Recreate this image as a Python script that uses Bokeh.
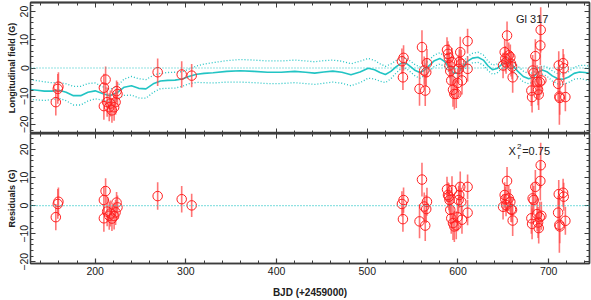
from bokeh.plotting import figure
from bokeh.layouts import column
from bokeh.models import (Range1d, LinearAxis, FixedTicker, Span, Label,
                          ColumnDataSource)
from bokeh.embed import file_html
from bokeh.resources import INLINE

# ---------------- data ----------------
obs_t = [156.6, 158.8, 159.5,
         209.6, 209.6, 211.5, 213.2, 215.5, 216.8, 218.5, 220.9, 222.5, 223.6, 224.6,
         268.9, 295.4, 306.4,
         538.2, 539.3, 540.0, 557.6, 560.3, 562.8, 563.9, 565.0, 565.8,
         587.9, 589.0, 590.0, 590.7, 591.5, 592.6, 593.4, 594.5, 596.0, 598.1,
         599.6, 600.7, 601.4, 602.5, 603.6, 604.4, 610.6, 610.6,
         649.7, 651.5, 652.2, 653.0, 654.1, 656.0, 657.7, 658.5, 659.6, 660.3,
         680.9, 681.7, 682.3, 683.5, 685.3, 687.2, 688.3, 689.0, 690.1, 690.8, 691.2, 691.9,
         710.4, 711.1, 711.8, 712.2, 715.9, 716.6, 718.4]
obs_b = [-12.1, -7.4, -6.6,
         -7.0, -13.5, -4.1, -12.1, -13.9, -12.6, -15.0, -13.9, -12.1, -8.2, -9.2,
         -1.5, -2.3, -2.7,
         2.4, -3.3, 3.6, -7.4, 7.4, -0.9, -8.0, -1.5, 1.7,
         6.4, 5.0, 3.6, 0.9, -1.1, -4.4, 2.1, -7.7, -9.2, -9.2,
         -5.3, -0.3, 2.1, 5.6, 1.5, -4.4, 9.5, -0.3,
         0.9, 5.6, 3.3, 2.0, 11.5, 4.5, 3.8, 1.5, 0.5, -3.3,
         -8.0, -10.3, -0.9, -1.8, 4.2, -5.0, -7.7, -9.4, -5.0, 8.0, 13.5, -4.4,
         -5.6, 0.9, -10.1, -10.6, 1.7, -0.1, -10.3]
obs_err = [4.7, 5.3, 5.1,
           5.0, 4.8, 4.6, 5.2, 5.0, 4.6, 4.4, 4.8, 4.5, 3.8, 4.2,
           4.9, 4.7, 4.1,
           4.5, 4.5, 4.5, 6.0, 6.0, 5.0, 5.5, 5.0, 5.0,
           4.5, 4.5, 4.8, 4.5, 5.0, 5.5, 5.0, 6.0, 5.5, 5.0,
           5.0, 5.0, 4.5, 5.5, 5.0, 5.0, 4.4, 4.5,
           4.5, 4.5, 4.5, 4.0, 5.0, 4.5, 4.5, 4.5, 4.5, 5.5,
           5.5, 5.5, 5.5, 5.0, 6.0, 6.0, 5.5, 5.5, 5.5, 7.0, 8.0, 5.0,
           6.0, 5.0, 10.0, 6.0, 5.0, 5.0, 5.0]
obs_res = [-4.1, 0.6, 1.4,
           2.0, -4.5, 5.2, -2.1, -3.6, -2.8, -4.6, -3.7, -2.4, 1.1, -0.6,
           3.4, 2.3, 0.1,
           0.6, -4.8, 2.0, -5.6, 9.3, -0.3, -7.1, -1.2, 1.4,
           5.8, 3.8, 3.2, 2.0, -1.5, -4.5, 5.5, -6.2, -7.4, -7.0,
           -4.1, 2.0, 3.8, 6.7, 1.4, -5.0, 6.7, -2.5,
           -0.4, 3.8, 2.3, 0.2, 8.8, 2.6, 1.4, -1.3, -1.5, -5.3,
           -4.5, -6.5, 2.6, 2.0, 6.7, -3.0, -6.0, -8.0, -4.1, 8.8, 14.4, -3.6,
           -2.5, 4.1, -6.8, -7.4, 4.6, 3.2, -5.4]

model_t = [128, 136, 144, 152, 160, 168, 176, 184, 192, 200, 208, 216, 224, 232,
           240, 248, 256, 264, 272, 280, 288, 296, 304, 312, 320, 330, 345, 360,
           375, 390, 405, 420, 432, 442, 452, 462, 472, 482, 492, 501, 508, 514,
           520, 526, 532, 538, 543, 548, 553, 558, 563, 568, 574, 580, 585, 590,
           595, 600, 605, 610, 616, 622, 628, 633, 638, 643, 648, 654, 660, 666,
           672, 678, 683, 688, 693, 698, 704, 710, 716, 722, 728, 734, 740, 745]
model_v = [-7.6, -7.9, -8.2, -8.2, -7.9, -8.6, -9.8, -9.8, -8.6, -8.1, -9.0, -9.8,
           -8.8, -6.8, -6.3, -7.2, -7.4, -5.6, -4.6, -4.4, -4.3, -3.9, -2.9, -2.2,
           -1.9, -1.7, -1.2, -1.0, -1.2, -1.5, -1.5, -1.2, -1.5, -1.8, -1.4, -1.1,
           -1.5, -2.4, -1.4, -0.1, -0.6, -1.6, -2.3, -1.2, 0.5, 1.8, 1.6, 0.4,
           -0.9, -1.6, -0.8, 0.8, 2.6, 3.4, 2.4, 0.2, -1.8, -1.8, 0.2, 2.3, 3.5,
           3.8, 2.8, 0.8, -0.6, -0.2, 1.2, 2.0, 1.0, -1.2, -3.0, -3.8, -3.3, -1.6,
           -0.7, -1.3, -2.8, -3.8, -4.0, -3.2, -1.9, -1.4, -1.6, -1.9]
model_sig = [3.5, 3.4, 3.3, 3.0, 2.8, 3.0, 3.3, 3.3, 3.1, 2.8, 2.4, 2.2, 2.3, 2.9,
             3.3, 3.4, 3.3, 3.0, 2.7, 2.8, 2.8, 2.6, 2.6, 2.9, 3.3, 3.6, 3.8, 4.0,
             4.0, 4.0, 4.0, 4.0, 4.0, 4.0, 4.0, 3.9, 3.9, 3.9, 3.8, 3.5, 3.3, 3.1,
             2.9, 2.6, 2.2, 1.8, 1.8, 1.9, 2.0, 2.0, 1.9, 2.0, 2.0, 2.0, 1.8, 1.6,
             1.5, 1.5, 1.5, 1.6, 1.7, 1.8, 1.8, 1.7, 1.6, 1.6, 1.5, 1.5, 1.6, 1.8,
             1.9, 1.8, 1.6, 1.5, 1.5, 1.6, 1.8, 1.8, 1.8, 1.9, 2.1, 2.3, 2.5, 2.6]

x_major = [200, 300, 400, 500, 600, 700]
x_minor = list(range(140, 745, 20))
y_major = [-20, -10, 0, 10, 20]
y_minor = list(range(-22, 26, 2))

# ---------------- styling ----------------
FONT = "Liberation Sans"
AXC = "#3c3c3c"
TXT = "#202020"
CYAN = "#22c4c4"
RED = "#ff2020"
BAR = "#ff4848"

W = 591
x_range = Range1d(128.7, 745)

src = ColumnDataSource(dict(
    t=obs_t, b=obs_b, res=obs_res,
    b_lo=[b - e for b, e in zip(obs_b, obs_err)],
    b_hi=[b + e for b, e in zip(obs_b, obs_err)],
    r_lo=[r - e for r, e in zip(obs_res, obs_err)],
    r_hi=[r + e for r, e in zip(obs_res, obs_err)],
))
msrc = ColumnDataSource(dict(
    t=model_t, v=model_v,
    lo=[v - s for v, s in zip(model_v, model_sig)],
    hi=[v + s for v, s in zip(model_v, model_sig)],
))


def base_axis_style(ax):
    ax.axis_line_color = AXC
    ax.axis_line_width = 1.3
    ax.major_tick_line_color = AXC
    ax.minor_tick_line_color = AXC
    ax.major_tick_line_width = 1.2
    ax.minor_tick_line_width = 1
    ax.major_tick_out = 0
    ax.minor_tick_out = 0


def labeled_axis(ax, major, minor, label, label_size, orient=None):
    ax.ticker = FixedTicker(ticks=major, minor_ticks=minor)
    base_axis_style(ax)
    ax.major_tick_in = 5
    ax.minor_tick_in = 3
    ax.major_label_text_font = FONT
    ax.major_label_text_font_size = "10.5px"
    ax.major_label_text_color = TXT
    ax.major_label_standoff = 2
    if orient:
        ax.major_label_orientation = orient
    ax.axis_label = label
    ax.axis_label_text_font = FONT
    ax.axis_label_text_font_style = "bold"
    ax.axis_label_text_font_size = label_size
    ax.axis_label_text_color = TXT
    ax.axis_label_standoff = 1


def tick_only_axes(p, side, major, minor):
    # unlabeled frame side: ticks only (drawn as minor ticks so no labels exist)
    for ticks, length in ((minor, 3), (major, 5)):
        ax = LinearAxis(ticker=FixedTicker(ticks=[], minor_ticks=ticks))
        base_axis_style(ax)
        ax.major_tick_in = 0
        ax.minor_tick_in = length
        ax.major_label_standoff = 0
        ax.axis_label_standoff = 0
        p.add_layout(ax, side)


def make_fig(height, yr, bt, bb, xloc):
    p = figure(width=W, height=height, x_range=x_range, y_range=yr,
               output_backend="svg", toolbar_location=None,
               x_axis_location=xloc, y_axis_location="left",
               min_border_left=30, min_border_right=2,
               min_border_top=bt, min_border_bottom=bb)
    p.grid.visible = False
    p.outline_line_color = AXC
    p.outline_line_width = 1.3
    p.background_fill_color = "white"
    p.border_fill_color = "white"
    return p


# ---------------- top panel ----------------
p1 = make_fig(133, Range1d(-23.2, 23.2), 2, 0, None)
labeled_axis(p1.left[0], y_major, y_minor, "Longitudinal field (G)", "9px", "vertical")
tick_only_axes(p1, "below", x_major, x_minor)
tick_only_axes(p1, "above", x_major, x_minor)
tick_only_axes(p1, "right", y_major, y_minor)

p1.add_layout(Span(location=0, dimension="width", line_color=CYAN,
                   line_dash="1 2", line_width=1.2))
p1.line("t", "hi", source=msrc, line_color=CYAN, line_dash="1 2", line_width=1.3)
p1.line("t", "lo", source=msrc, line_color=CYAN, line_dash="1 2", line_width=1.3)
p1.line("t", "v", source=msrc, line_color=CYAN, line_width=1.6)
p1.segment(x0="t", y0="b_lo", x1="t", y1="b_hi", source=src,
           line_color=BAR, line_alpha=0.75, line_width=1.6)
p1.scatter("t", "b", source=src, marker="circle", size=9.5, fill_color=None,
           line_color=RED, line_width=1)
p1.add_layout(Label(x=683.5, y=17.2, text="Gl  317", text_align="center",
                    text_baseline="alphabetic", text_font=FONT,
                    text_font_size="11px", text_color=TXT))

# ---------------- bottom panel ----------------
p2 = make_fig(167, Range1d(-20.6, 25.7), 0, 36, "below")
labeled_axis(p2.below[0], x_major, x_minor, "BJD (+2459000)", "10px")
p2.below[0].major_label_standoff = 3
p2.below[0].axis_label_standoff = 9
labeled_axis(p2.left[0], y_major, y_minor, "Residuals (G)", "9px", "vertical")
tick_only_axes(p2, "above", x_major, x_minor)
tick_only_axes(p2, "right", y_major, y_minor)

p2.add_layout(Span(location=0, dimension="width", line_color=CYAN,
                   line_dash="1 2", line_width=1.2))
p2.segment(x0="t", y0="r_lo", x1="t", y1="r_hi", source=src,
           line_color=BAR, line_alpha=0.75, line_width=1.6)
p2.scatter("t", "res", source=src, marker="circle", size=9.5, fill_color=None,
           line_color=RED, line_width=1)

lab_kw = dict(text_font=FONT, text_color=TXT, text_baseline="alphabetic",
              text_align="left")
p2.add_layout(Label(x=655.8, y=19.4, text="X", text_font_size="11px", **lab_kw))
p2.add_layout(Label(x=665.0, y=21.0, text="2", text_font_size="8px", **lab_kw))
p2.add_layout(Label(x=666.0, y=17.6, text="r", text_font_size="8px", **lab_kw))
p2.add_layout(Label(x=670.8, y=19.4, text="=0.75", text_font_size="11px", **lab_kw))

layout = column(p1, p2, spacing=0)
open("out.html", "w").write(file_html(layout, INLINE))
